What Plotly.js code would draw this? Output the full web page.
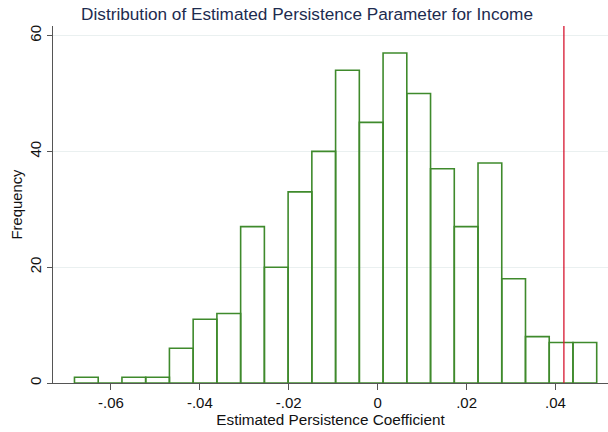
<!DOCTYPE html>
<html>
<head>
<meta charset="utf-8">
<script src="https://cdn.plot.ly/plotly-3.0.1.min.js"></script>
<style>html,body{margin:0;padding:0;background:#fff;}#chart{width:608px;height:432px;}</style>
</head>
<body>
<div id="chart"></div>
<script>
// Bin centers (estimated persistence coefficient) and frequencies
var binCenters = [-0.06553, -0.06019, -0.05485, -0.04951, -0.04417, -0.03883, -0.03349, -0.02815,
                  -0.02281, -0.01747, -0.01213, -0.00679, -0.00145, 0.00389, 0.00923, 0.01457,
                  0.01991, 0.02525, 0.03059, 0.03593, 0.04127, 0.04661];
var frequencies = [1, 0, 1, 1, 6, 11, 12, 27, 20, 33, 40, 54, 45, 57, 50, 37, 27, 38, 18, 8, 7, 7];
var binWidth = 0.00534;
var referenceValue = 0.0419;
var xTickVals = [-0.06, -0.04, -0.02, 0, 0.02, 0.04];
var xTickText = ['-.06', '-.04', '-.02', '0', '.02', '.04'];
var yTickVals = [0, 20, 40, 60];

var trace = {
  type: 'bar',
  x: binCenters,
  y: frequencies,
  width: binCenters.map(function(){ return binWidth; }),
  marker: {color: 'rgba(255,255,255,0)', line: {color: '#3f8a2c', width: 1.6}},
  hoverinfo: 'x+y'
};

var font = 'Liberation Sans, Arial, Helvetica, sans-serif';
var layout = {
  width: 608, height: 432,
  margin: {l: 53, r: 0, t: 26, b: 49},
  paper_bgcolor: '#ffffff',
  plot_bgcolor: '#ffffff',
  showlegend: false,
  bargap: 0,
  title: {text: 'Distribution of Estimated Persistence Parameter for Income',
          font: {family: font, size: 17.2, color: '#1d2b4f'},
          x: 0.505, xanchor: 'center', y: 0.968, yanchor: 'middle'},
  xaxis: {
    range: [-0.07303, 0.05182],
    tickvals: xTickVals, ticktext: xTickText,
    ticks: 'outside', ticklen: 6, tickcolor: '#555555', tickwidth: 1,
    showline: true, linecolor: '#555555', linewidth: 1.3,
    showgrid: false, zeroline: false,
    tickfont: {family: font, size: 15, color: '#111111'},
    title: {text: 'Estimated Persistence Coefficient', font: {family: font, size: 15.3, color: '#111111'}, standoff: 3}
  },
  yaxis: {
    range: [0, 61.65],
    tickvals: yTickVals,
    tickangle: -90,
    ticks: 'outside', ticklen: 5, tickcolor: '#555555', tickwidth: 1,
    showline: true, linecolor: '#555555', linewidth: 1.3,
    showgrid: true, gridcolor: '#eaf0f0', gridwidth: 1,
    zeroline: false,
    tickfont: {family: font, size: 15, color: '#111111'},
    title: {text: 'Frequency', font: {family: font, size: 14.8, color: '#111111'}, standoff: 0}
  },
  shapes: [{
    type: 'line', xref: 'x', yref: 'paper',
    x0: referenceValue, x1: referenceValue, y0: 0, y1: 1,
    line: {color: '#d6152f', width: 1.3},
    layer: 'above'
  }]
};

Plotly.newPlot('chart', [trace], layout, {displayModeBar: false, staticPlot: true});
</script>
</body>
</html>
